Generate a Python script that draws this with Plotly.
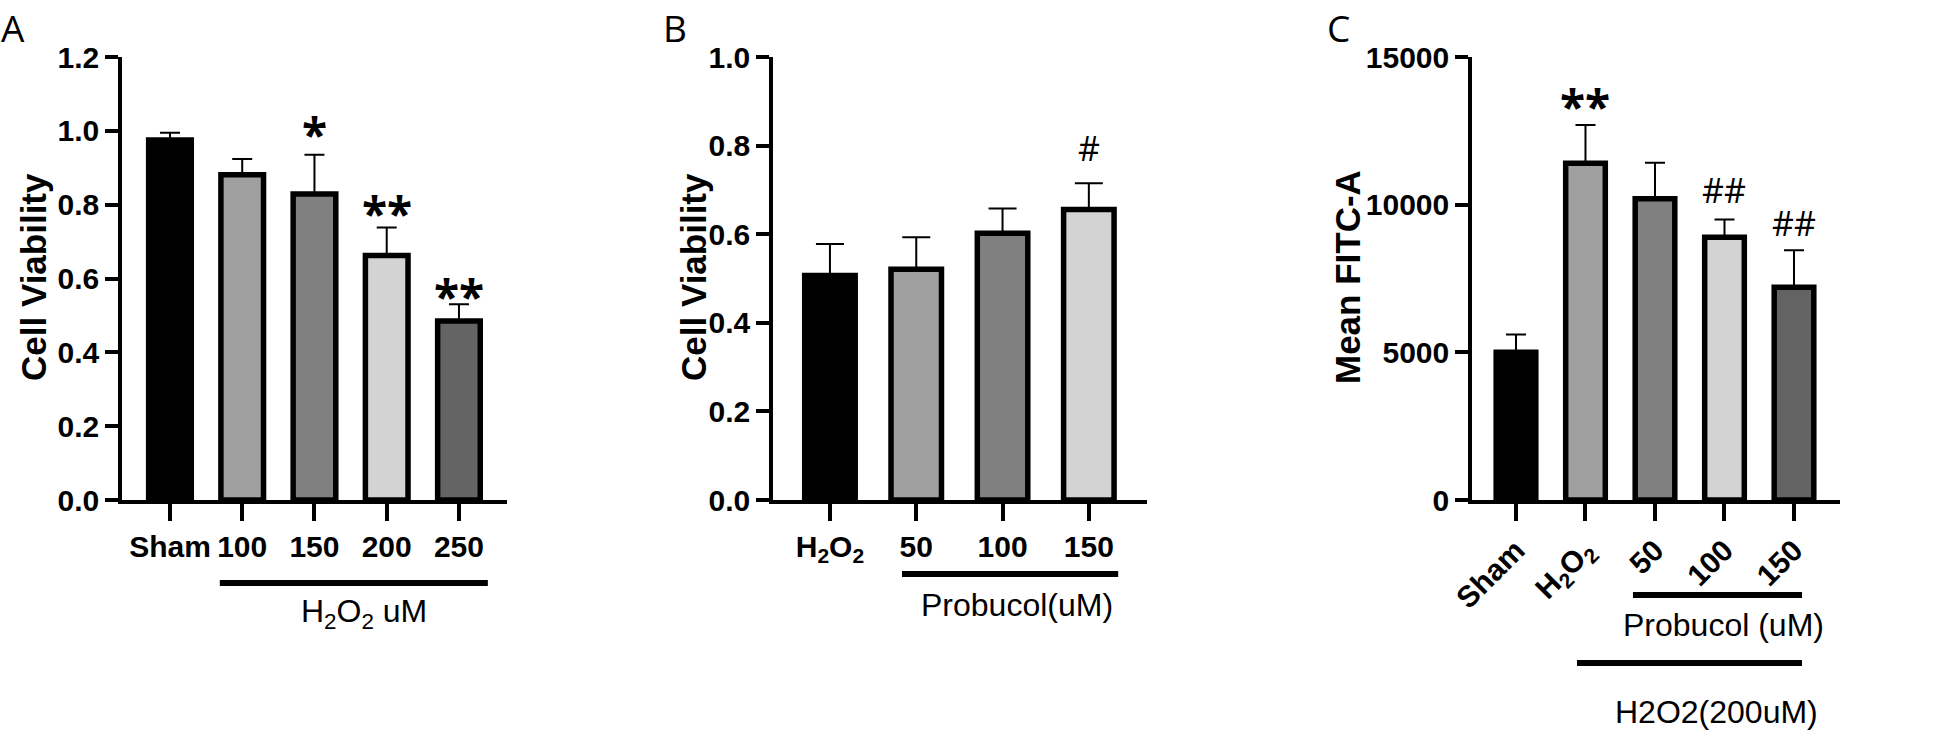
import plotly.graph_objects as go

# ---------------- data ----------------
A_cats = ["Sham", "100", "150", "200", "250"]
A_vals = [0.975, 0.881, 0.829, 0.662, 0.485]
A_err = [0.02, 0.043, 0.106, 0.076, 0.045]
A_marks = ["", "", "*", "**", "**"]
A_colors = ["#000000", "#a0a0a0", "#808080", "#d3d3d3", "#646464"]
A_yticks = [0.0, 0.2, 0.4, 0.6, 0.8, 1.0, 1.2]

B_cats = ["H<sub>2</sub>O<sub>2</sub>", "50", "100", "150"]
B_vals = [0.507, 0.521, 0.602, 0.656]
B_err = [0.071, 0.072, 0.056, 0.059]
B_marks = ["", "", "", "#"]
B_colors = ["#000000", "#a0a0a0", "#808080", "#d3d3d3"]
B_yticks = [0.0, 0.2, 0.4, 0.6, 0.8, 1.0]

C_cats = ["Sham", "H<sub>2</sub>O<sub>2</sub>", "50", "100", "150"]
C_vals = [5000, 11400, 10200, 8900, 7200]
C_err = [600, 1300, 1220, 600, 1260]
C_marks = ["", "**", "", "##", "##"]
C_colors = ["#000000", "#a0a0a0", "#808080", "#d3d3d3", "#636363"]
C_yticks = [0, 5000, 10000, 15000]

W, H = 1946, 736
FONT = "Liberation Sans, Arial, sans-serif"
MARKFONT = "Open Sans, Liberation Sans, sans-serif"

fig = go.Figure()

panels = [
    dict(cats=A_cats, vals=A_vals, err=A_err, marks=A_marks, colors=A_colors, yt=A_yticks,
         xd=(122, 507), xr=(-0.664, 4.665), yr=(0, 1.2), fmt=".1f", bw=0.59, cap=10,
         ttl="Cell Viability", ttlx=34, letter="A", lx=13, angle=0,
         shifts=[0, 0, 21, 15, 8]),
    dict(cats=B_cats, vals=B_vals, err=B_err, marks=B_marks, colors=B_colors, yt=B_yticks,
         xd=(773, 1147), xr=(-0.66, 3.674), yr=(0, 1.0), fmt=".1f", bw=0.585, cap=14,
         ttl="Cell Viability", ttlx=694, letter="B", lx=675, angle=0,
         shifts=[0, 0, 0, 35]),
    dict(cats=C_cats, vals=C_vals, err=C_err, marks=C_marks, colors=C_colors, yt=C_yticks,
         xd=(1472, 1840), xr=(-0.633, 4.662), yr=(0, 15000), fmt="d", bw=0.57, cap=10,
         ttl="Mean FITC-A", ttlx=1348, letter="C", lx=1338, angle=-45,
         shifts=[0, 19, 0, 29, 27]),
]

y0_px, y1_px = 500, 57
ydom = [1 - y0_px / H, 1 - y1_px / H]

layout_axes = {}
annotations = []
shapes = []
for i, p in enumerate(panels, start=1):
    xa = "x" if i == 1 else f"x{i}"
    ya = "y" if i == 1 else f"y{i}"
    idx = list(range(len(p["cats"])))
    fig.add_trace(go.Bar(
        x=idx, y=p["vals"], width=p["bw"], xaxis=xa, yaxis=ya,
        marker=dict(color=p["colors"], line=dict(color="black", width=5.5)),
        error_y=dict(type="data", array=p["err"], arrayminus=[0] * len(idx), symmetric=False,
                     color="black", thickness=2, width=p["cap"]),
        showlegend=False, hoverinfo="skip",
    ))
    xkey = "xaxis" if i == 1 else f"xaxis{i}"
    ykey = "yaxis" if i == 1 else f"yaxis{i}"
    layout_axes[xkey] = dict(
        domain=[p["xd"][0] / W, p["xd"][1] / W], anchor=ya, range=list(p["xr"]),
        tickvals=idx, ticktext=p["cats"], tickangle=p["angle"], automargin=False,
        showline=True, linewidth=3.5, linecolor="black", ticks="outside", ticklen=17,
        tickwidth=3.5, tickcolor="black", showgrid=False, zeroline=False, fixedrange=True,
        tickfont=dict(family=FONT, size=30, color="black", weight="bold"),
    )
    layout_axes[ykey] = dict(
        domain=ydom, anchor=xa, range=list(p["yr"]), tickvals=p["yt"], tickformat=p["fmt"],
        automargin=False, fixedrange=True,
        showline=True, linewidth=3.5, linecolor="black", ticks="outside", ticklen=13,
        tickwidth=3.5, tickcolor="black", showgrid=False, zeroline=False,
        tickfont=dict(family=FONT, size=30, color="black", weight="bold"),
    )
    # y title
    annotations.append(dict(
        text="<b>" + p["ttl"] + "</b>", textangle=-90, xref="paper", yref="paper",
        x=p["ttlx"] / W, y=1 - 277 / H, xanchor="center", yanchor="middle", showarrow=False,
        font=dict(family=FONT, size=35, color="black"),
    ))
    # panel letter
    annotations.append(dict(
        text=p["letter"], xref="paper", yref="paper", x=p["lx"] / W, y=1.0,
        xanchor="center", yanchor="top", showarrow=False,
        font=dict(family=MARKFONT, size=37, color="black"),
    ))
    # significance marks
    for j, m in enumerate(p["marks"]):
        if not m:
            continue
        big = "*" in m
        annotations.append(dict(
            text=m, xref=xa, yref=ya, x=idx[j], y=p["vals"][j] + p["err"][j],
            xanchor="center", yanchor="middle", yshift=p["shifts"][j],
            showarrow=False,
            font=dict(family=MARKFONT, size=46 if big else 34, color="black",
                      weight="bold" if big else "normal"),
        ))

fig.update_layout(**layout_axes)

# group bars and labels
groups = [
    # (axis, x start, x end, y px, label, label x, label y px)
    ("x", 0.69, 4.40, 583, "H<sub>2</sub>O<sub>2</sub> uM", 2.69, 613),
    ("x2", 0.835, 3.34, 574, "Probucol(uM)", 2.167, 605),
    ("x3", 1.683, 4.115, 595, "Probucol (uM)", 2.98, 625),
    ("x3", 0.878, 4.115, 663, "H2O2(200uM)", 2.892, 712),
]
for ax, xs, xe, ypx, lab, lx, lypx in groups:
    shapes.append(dict(type="line", xref=ax, yref="paper", x0=xs, x1=xe,
                       y0=1 - ypx / H, y1=1 - ypx / H, line=dict(color="black", width=6)))
    annotations.append(dict(
        text=lab, xref=ax, yref="paper", x=lx, y=1 - lypx / H, xanchor="center",
        yanchor="middle", showarrow=False, font=dict(family=FONT, size=32, color="black"),
    ))

fig.update_layout(
    width=W, height=H, margin=dict(l=0, r=0, t=0, b=0, pad=0, autoexpand=False),
    paper_bgcolor="white", plot_bgcolor="white",
    annotations=annotations, shapes=shapes, showlegend=False,
    font=dict(family=FONT, color="black"),
)

fig.write_html(
    "out.html",
    config={"displayModeBar": False},
    post_script="document.body.style.margin='0';document.body.style.overflow='hidden';"
                "document.documentElement.style.overflow='hidden';",
)
